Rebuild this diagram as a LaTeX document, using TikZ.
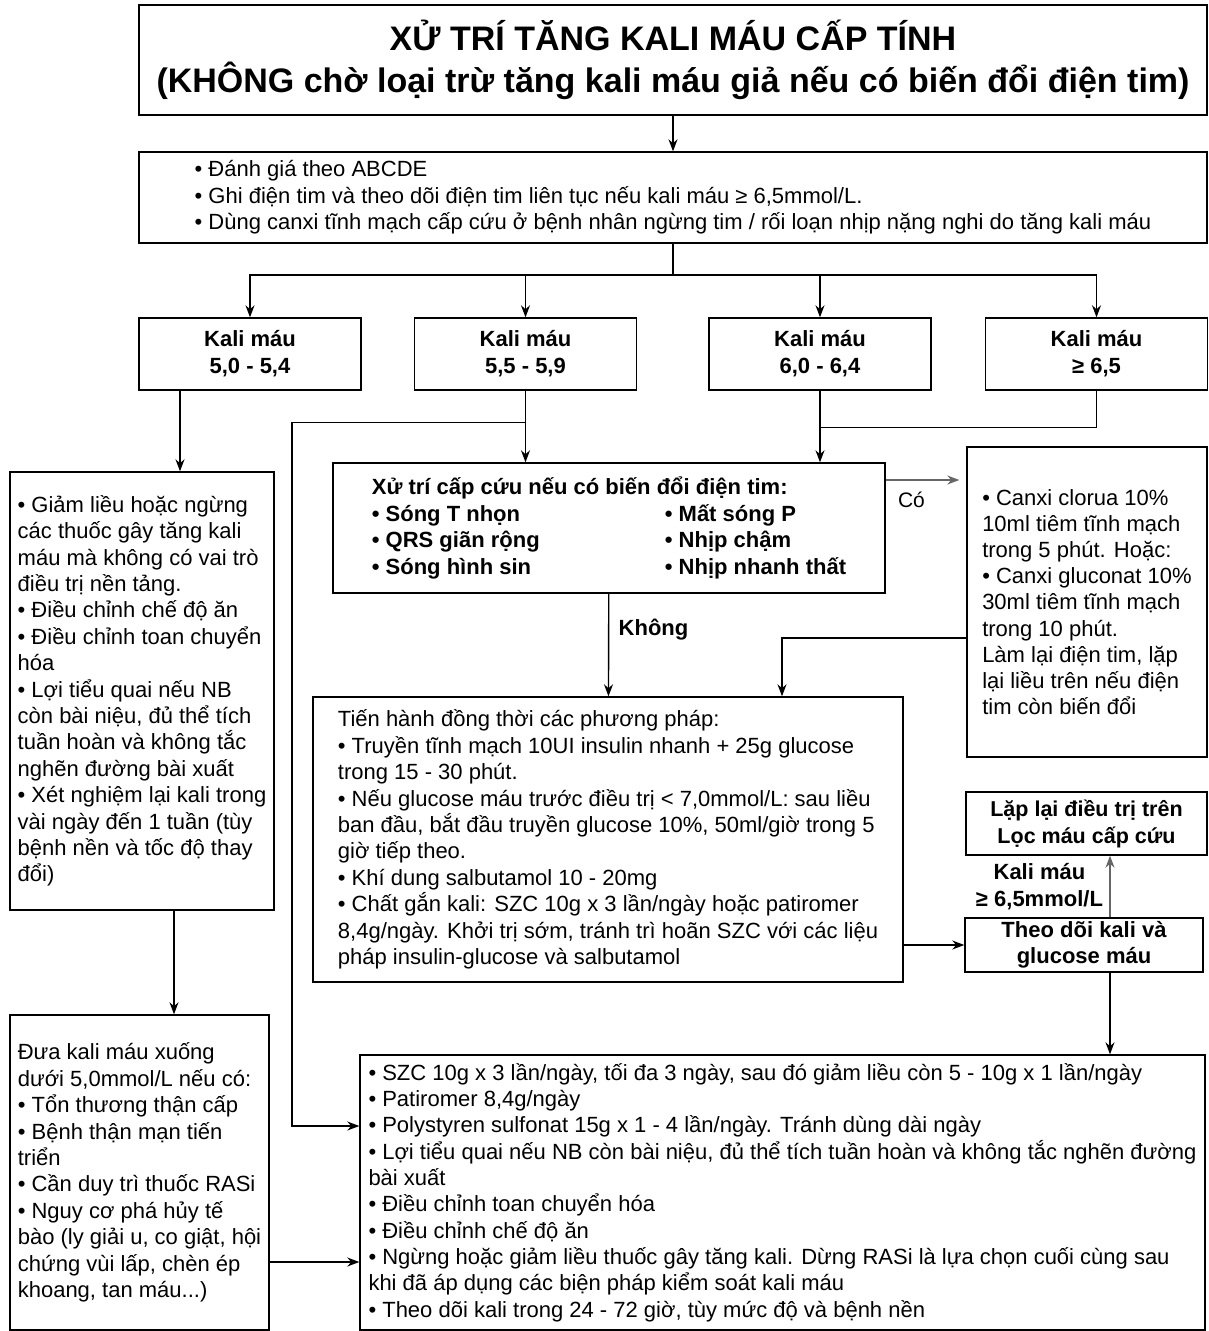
\documentclass[tikz,border=0pt]{standalone}
\usepackage{fontspec}
\setmainfont{Liberation Sans}
\usetikzlibrary{arrows.meta}
\newcommand{\fs}[2]{\fontsize{#1}{#2}\selectfont}
\tikzset{
  box/.style={draw,line width=1.4pt,inner sep=0pt,align=left},
  kbox/.style={box,minimum width=222pt,minimum height=72pt,align=center,font=\bfseries\fs{22}{27}},
  arr/.style={-{Stealth[length=12pt,width=9pt]},line width=1.4pt},
  ln/.style={line width=1.4pt},
  gr/.style={draw=black!60},
}
\begin{document}
\begin{tikzpicture}[x=1pt,y=-1pt]
\useasboundingbox (0,0) rectangle (1209,1331);
% tieu de
\node[box,minimum width=1068pt,minimum height=110pt,align=center,font=\bfseries\fs{34}{42}] (title) at (673,60)
  {XỬ TRÍ TĂNG KALI MÁU CẤP TÍNH\\(KHÔNG chờ loại trừ tăng kali máu giả nếu có biến đổi điện tim)};
\node[box,minimum width=1068pt,minimum height=91pt,font=\fs{22}{26.5}] (assess) at (673,197.5)
  {• Đánh giá theo ABCDE\\
   • Ghi điện tim và theo dõi điện tim liên tục nếu kali máu ≥ 6,5mmol/L.\\
   • Dùng canxi tĩnh mạch cấp cứu ở bệnh nhân ngừng tim / rối loạn nhịp nặng nghi do tăng kali máu};
% 4 muc kali
\foreach \nm/\x/\val in {kA/250/{5,0 - 5,4},kB/525.5/{5,5 - 5,9},kC/820/{6,0 - 6,4},kD/1096.5/{≥ 6,5}}
  \node[kbox] (\nm) at (\x,354) {Kali máu\\\val};
% cot trai
\node[box,minimum width=264pt,minimum height=438pt,font=\fs{22}{26.4}] (left1) at (142,691)
  {• Giảm liều hoặc ngừng\\các thuốc gây tăng kali\\máu mà không có vai trò\\điều trị nền tảng.\\
   • Điều chỉnh chế độ ăn\\• Điều chỉnh toan chuyển\\hóa\\
   • Lợi tiểu quai nếu NB\\còn bài niệu, đủ thể tích\\tuần hoàn và không tắc\\nghẽn đường bài xuất\\
   • Xét nghiệm lại kali trong\\vài ngày đến 1 tuần (tùy\\bệnh nền và tốc độ thay\\đổi)};
\node[box,minimum width=259pt,minimum height=315pt,font=\fs{22}{26.4}] (left2) at (139.5,1172.5)
  {Đưa kali máu xuống\\dưới 5,0mmol/L nếu có:\\• Tổn thương thận cấp\\• Bệnh thận mạn tiến\\triển\\
   • Cần duy trì thuốc RASi\\• Nguy cơ phá hủy tế\\bào (ly giải u, co giật, hội\\chứng vùi lấp, chèn ép\\khoang, tan máu...)};
% cap cuu ECG
\node[box,minimum width=552pt,minimum height=130pt,font=\bfseries\fs{22}{26.5}] (ecg) at (609,528)
  {Xử trí cấp cứu nếu có biến đổi điện tim:\\
   \makebox[293pt][l]{• Sóng T nhọn}• Mất sóng P\\
   \makebox[293pt][l]{• QRS giãn rộng}• Nhịp chậm\\
   \makebox[293pt][l]{• Sóng hình sin}• Nhịp nhanh thất};
\node[box,minimum width=240pt,minimum height=310pt,font=\fs{22}{26.2}] (calc) at (1087,602)
  {• Canxi clorua 10\%\\10ml tiêm tĩnh mạch\\trong 5 phút. Hoặc:\\• Canxi gluconat 10\%\\
   30ml tiêm tĩnh mạch\\trong 10 phút.\\Làm lại điện tim, lặp\\lại liều trên nếu điện\\tim còn biến đổi};
\node[box,minimum width=590pt,minimum height=285pt,font=\fs{22}{26.4}] (treat) at (608,839.5)
  {Tiến hành đồng thời các phương pháp:\\
   • Truyền tĩnh mạch 10UI insulin nhanh + 25g glucose\\trong 15 - 30 phút.\\
   • Nếu glucose máu trước điều trị < 7,0mmol/L: sau liều\\ban đầu, bắt đầu truyền glucose 10\%, 50ml/giờ trong 5\\giờ tiếp theo.\\
   • Khí dung salbutamol 10 - 20mg\\
   • Chất gắn kali: SZC 10g x 3 lần/ngày hoặc patiromer\\8,4g/ngày. Khởi trị sớm, tránh trì hoãn SZC với các liệu\\pháp insulin-glucose và salbutamol};
\node[box,minimum width=238pt,minimum height=54pt,align=center,font=\bfseries\fs{22}{26}] (monitor) at (1084,945)
  {Theo dõi kali và\\glucose máu};
\node[box,minimum width=241pt,minimum height=63pt,align=center,font=\bfseries\fs{21.5}{27}] (repeat) at (1086.5,823.5)
  {Lặp lại điều trị trên\\Lọc máu cấp cứu};
\node[box,minimum width=845pt,minimum height=275pt,font=\fs{22}{26.3}] (bottom) at (782.5,1192.5)
  {• SZC 10g x 3 lần/ngày, tối đa 3 ngày, sau đó giảm liều còn 5 - 10g x 1 lần/ngày\\
   • Patiromer 8,4g/ngày\\
   • Polystyren sulfonat 15g x 1 - 4 lần/ngày. Tránh dùng dài ngày\\
   • Lợi tiểu quai nếu NB còn bài niệu, đủ thể tích tuần hoàn và không tắc nghẽn đường\\bài xuất\\
   • Điều chỉnh toan chuyển hóa\\
   • Điều chỉnh chế độ ăn\\
   • Ngừng hoặc giảm liều thuốc gây tăng kali. Dừng RASi là lựa chọn cuối cùng sau\\khi đã áp dụng các biện pháp kiểm soát kali máu\\
   • Theo dõi kali trong 24 - 72 giờ, tùy mức độ và bệnh nền};
% diem re nhanh
\coordinate (split) at (673,275);
\coordinate (xA) at (180,0);
\coordinate (xL) at (174,0);
\coordinate (yR) at (0,1262);
\coordinate (xB) at (292,0);
\coordinate (yB) at (0,1126);
\coordinate (yC) at (0,480);
\coordinate (yK) at (0,638);
\coordinate (xK) at (782,0);
\coordinate (xM) at (1110,0);
\path (kB.south) ++(0,32) coordinate (jB);
\path (kC.south) ++(0,37) coordinate (jC);
% mui ten
\draw[arr] (title) -- (assess);
\draw[ln] (assess) -- (split);
\foreach \nm in {kA,kB,kC,kD} \draw[arr] (split) -| (\nm);
\draw[arr] (kA.south -| xA) -- (left1.north -| xA);
\draw[arr] (left1.south -| xL) -- (left2.north -| xL);
\draw[arr] (left2.east |- yR) -- (bottom.west |- yR);
\draw[ln] (kB) -- (jB);
\draw[arr] (jB) -- (ecg.north -| jB);
\draw[arr] (jB) -| (xB |- yB) -- (bottom.west |- yB);
\draw[ln] (kD) |- (jC);
\draw[arr] (kC) -- (kC |- ecg.north);
\draw[arr,gr] (ecg.east |- yC) -- ([xshift=-7pt]calc.west |- yC) node[pos=.35,below=8pt,font=\fs{21}{24}] (co) {Có};
\draw[arr] (calc.west |- yK) -| (xK |- treat.north);
\draw[arr] (ecg) -- (treat) node[pos=.35,right=6pt,font=\bfseries\fs{22}{24}] (khong) {Không};
\draw[arr] (treat.east |- monitor) -- (monitor);
\draw[arr,gr] (monitor.north -| xM) -- (repeat.south -| xM) node[midway,left=3pt,align=center,font=\bfseries\fs{22}{27}] (lbl) {Kali máu\\≥ 6,5mmol/L};
\draw[arr] (monitor.south -| xM) -- (bottom.north -| xM);
\end{tikzpicture}
\end{document}
